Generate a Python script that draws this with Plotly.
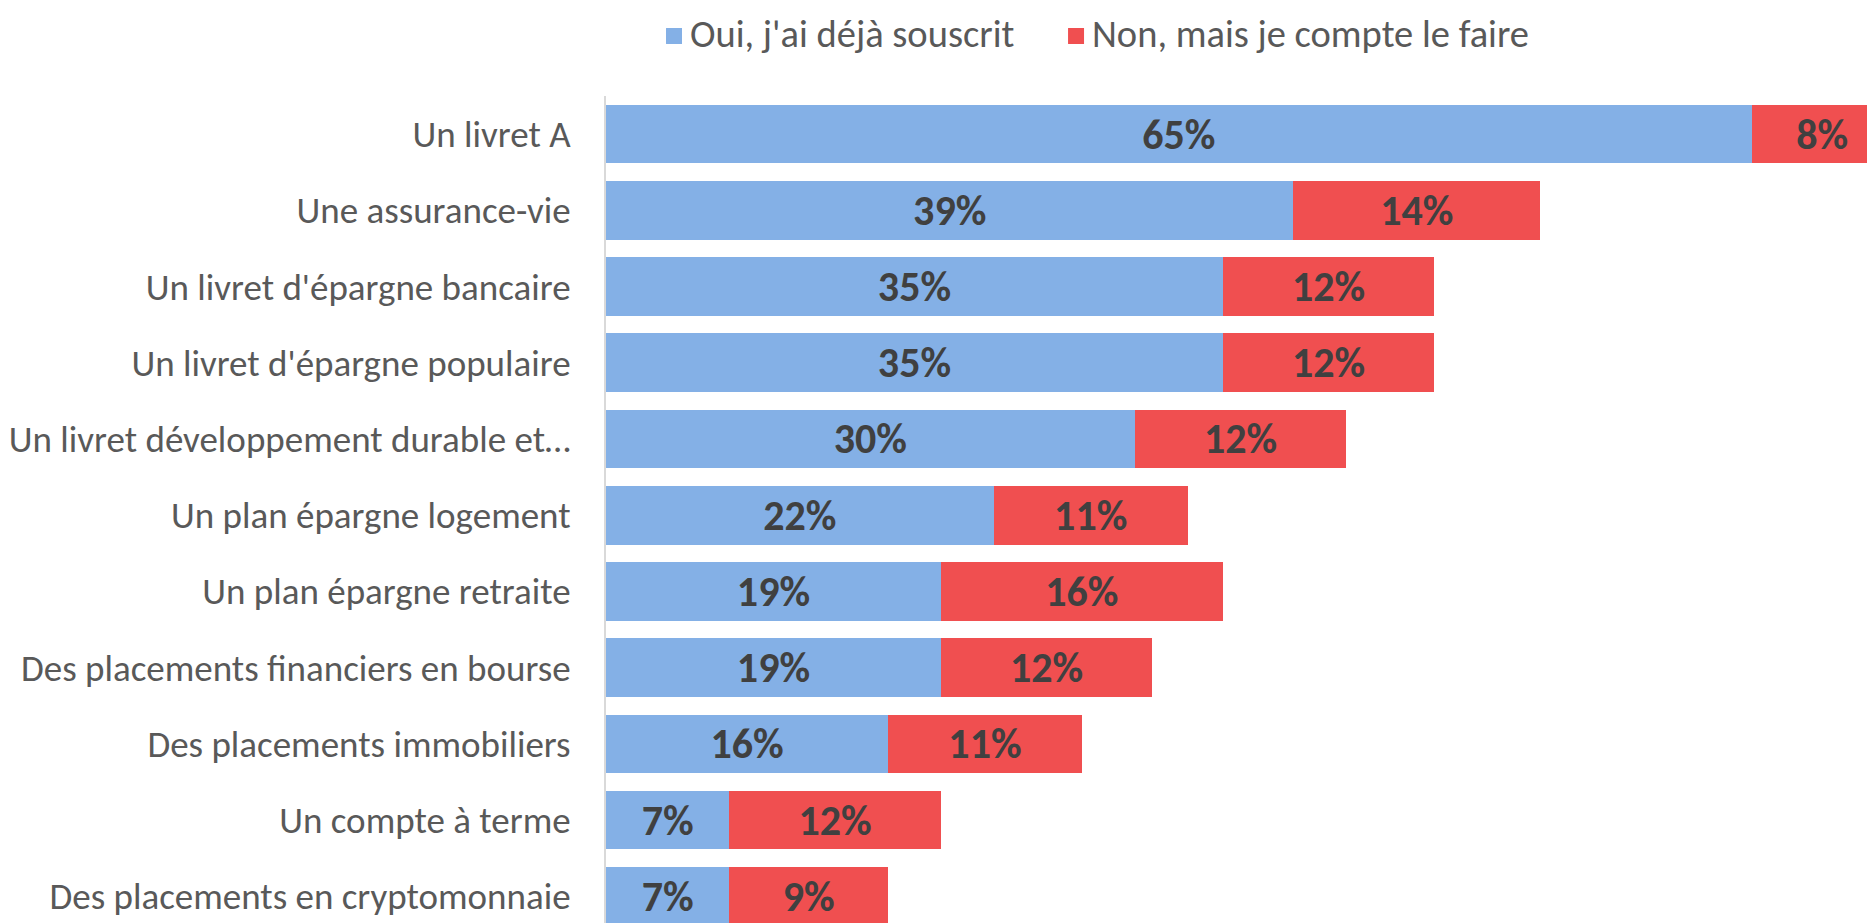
import plotly.graph_objs as go

# survey answers, top to bottom
categories = [
    "Un livret A",
    "Une assurance-vie",
    "Un livret d'épargne bancaire",
    "Un livret d'épargne populaire",
    "Un livret développement durable et…",
    "Un plan épargne logement",
    "Un plan épargne retraite",
    "Des placements financiers en bourse",
    "Des placements immobiliers",
    "Un compte à terme",
    "Des placements en cryptomonnaie",
]
oui = [65, 39, 35, 35, 30, 22, 19, 19, 16, 7, 7]
non = [8, 14, 12, 12, 12, 11, 16, 12, 11, 12, 9]
series_names = ["Oui, j'ai déjà souscrit", "Non, mais je compte le faire"]
series_colors = ['#84B0E6', '#F04F50']

font_family = "Carlito, Calibri, 'Liberation Sans Narrow', 'Noto Sans', sans-serif"

fig = go.Figure()

for values, name, color in zip([oui, non], series_names, series_colors):
    fig.add_trace(
        go.Bar(
            y=categories,
            x=values,
            name=name,
            orientation='h',
            showlegend=False,
            marker={'color': color, 'line': {'width': 0}},
            texttemplate='<b>%{x}%</b>',
            textposition='inside',
            insidetextanchor='middle',
            textangle=0,
            textfont={'size': 42, 'color': '#404040', 'family': font_family},
        )
    )

# legend drawn by hand (square swatch + label) so it sits tight to the top edge
legend_x = [0.0473, 0.3641]
for name, color, x0 in zip(series_names, series_colors, legend_x):
    fig.add_shape(
        type='rect',
        xref='paper', yref='paper',
        x0=x0, x1=x0 + 0.0126,
        y0=1.0629, y1=1.0822,
        fillcolor=color,
        line={'width': 0},
    )
    fig.add_annotation(
        text=name,
        xref='paper', yref='paper',
        x=x0 + 0.0173, y=1.075,
        xanchor='left', yanchor='middle',
        showarrow=False,
        font={'size': 38.5, 'color': '#595959'},
    )

fig.update_layout(
    barmode='stack',
    bargap=0.23,
    width=1867,
    height=915,
    margin={'l': 598, 'r': 0, 't': 88, 'b': 0, 'autoexpand': False},
    paper_bgcolor='white',
    plot_bgcolor='white',
    font={'family': font_family, 'color': '#595959', 'size': 37},
    xaxis={
        'range': [0, 72],
        'showgrid': False,
        'zeroline': False,
        'showticklabels': False,
        'automargin': False,
        'fixedrange': True,
    },
    yaxis={
        'categoryorder': 'array',
        'categoryarray': categories,
        'range': [10.35, -0.5],
        'showline': True,
        'linecolor': '#D9D9D9',
        'linewidth': 2,
        'showgrid': False,
        'ticks': '',
        'automargin': False,
        'ticklabelstandoff': 26,
        'tickfont': {'size': 37, 'color': '#595959'},
    },
    showlegend=False,
)

fig.write_html("out.html")
